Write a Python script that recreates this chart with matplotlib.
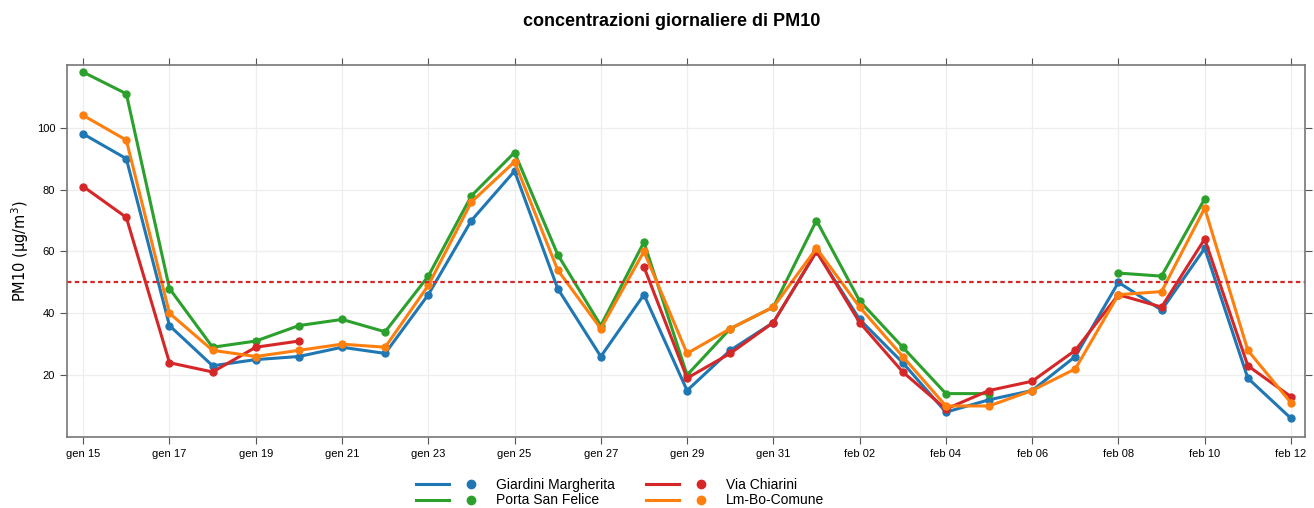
import numpy as np
import pandas as pd
import matplotlib
matplotlib.use("Agg")
import matplotlib.pyplot as plt
from matplotlib.lines import Line2D
from matplotlib.legend_handler import HandlerTuple

plt.rcParams["font.family"] = ["Liberation Sans Narrow", "Liberation Sans", "DejaVu Sans"]

nan = np.nan
dates = pd.date_range("2024-01-15", "2024-02-12", freq="D")

giardini = [98, 90, 36, 23, 25, 26, 29, 27, 46, 70, 86, 48, 26, 46, 15, 28, 37, 60, 38, 24,
            8, 12, 15, 26, 50, 41, 61, 19, 6]
san_felice = [118, 111, 48, 29, 31, 36, 38, 34, 52, 78, 92, 59, 36, 63, 20, 35, 42, 70, 44, 29,
              14, 14, nan, nan, 53, 52, 77, nan, nan]
chiarini = [81, 71, 24, 21, 29, 31, nan, nan, nan, nan, nan, nan, nan, 55, 19, 27, 37, 60, 37, 21,
            9, 15, 18, 28, 46, 42, 64, 23, 13]
comune = [104, 96, 40, 28, 26, 28, 30, 29, 49, 76, 89, 54, 35, 60, 27, 35, 42, 61, 42, 26,
          10, 10, 15, 22, 46, 47, 74, 28, 11]

series_names = ["Giardini Margherita", "Porta San Felice", "Via Chiarini", "Lm-Bo-Comune"]
series_colors = ["#1f77b4", "#2ca02c", "#d62728", "#ff7f0e"]
limit = 50

tick_dates = dates[::2]
tick_labels = ["gen 15", "gen 17", "gen 19", "gen 21", "gen 23", "gen 25", "gen 27", "gen 29",
               "gen 31", "feb 02", "feb 04", "feb 06", "feb 08", "feb 10", "feb 12"]

fig = plt.figure(figsize=(13.14, 5.08), dpi=100)
ax = fig.add_axes([0.051, 0.140, 0.942, 0.732])

for vals, name, col in zip([giardini, san_felice, chiarini, comune], series_names, series_colors):
    ax.plot(dates, vals, color=col, lw=2.2, marker="o", ms=5, label=name)

ax.axhline(limit, color="#d62728", lw=1.6, ls=(0, (2, 1.5)))

ax.set_ylim(0, 120.3)
ax.set_xlim(dates[0] - pd.Timedelta(hours=9), dates[-1] + pd.Timedelta(hours=7.7))
ax.set_yticks([20, 40, 60, 80, 100])
ax.set_xticks(tick_dates)
ax.set_xticklabels(tick_labels)
ax.tick_params(axis="both", labelsize=8, direction="out", length=5, color="#555555",
               top=True, right=True, labeltop=False, labelright=False)
ax.grid(True, color="#eeeeee", lw=0.9)
for s in ax.spines.values():
    s.set_color("#777777")
    s.set_linewidth(1.2)

ax.set_ylabel("PM10 (µg/m$^3$)", fontsize=10.5, family="DejaVu Sans")
fig.suptitle("concentrazioni giornaliere di PM10", fontsize=13, fontweight="bold", x=0.511, y=0.975)

handles = []
for col in series_colors:
    handles.append((Line2D([], [], color=col, lw=2.2),
                    Line2D([], [], color=col, lw=0, marker="o", ms=6)))
leg = fig.legend(handles, series_names,
                 handler_map={tuple: HandlerTuple(ndivide=None, pad=0.4)},
                 loc="center", bbox_to_anchor=(0.472, 0.03), ncol=2, frameon=False,
                 fontsize=10, handlelength=5.2, labelspacing=0.1, columnspacing=2.2,
                 handletextpad=0.6)

fig.savefig("out.png", dpi=100)
